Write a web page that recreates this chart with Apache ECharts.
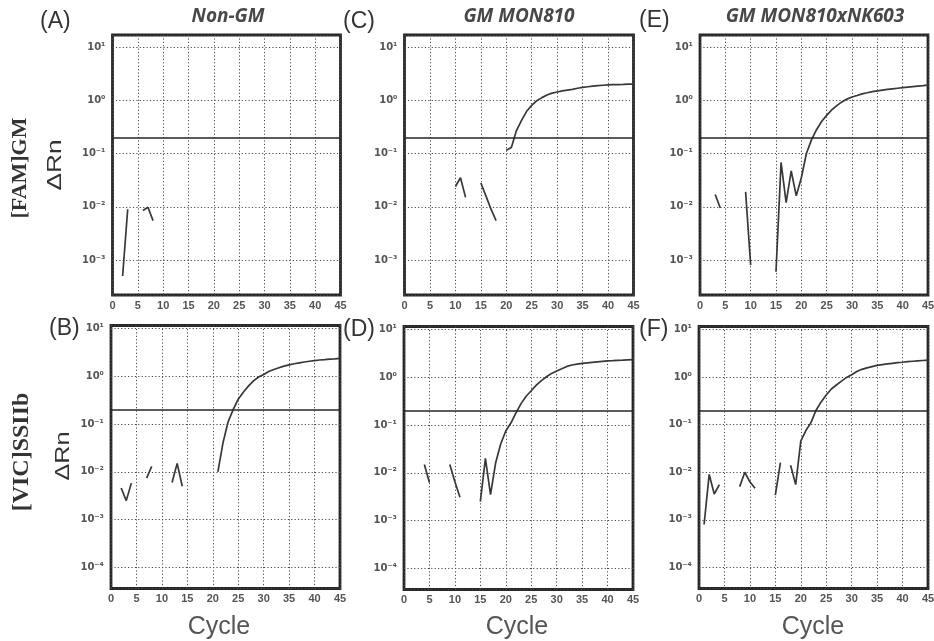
<!DOCTYPE html>
<html><head><meta charset="utf-8">
<script src="https://cdn.jsdelivr.net/npm/echarts@6/dist/echarts.min.js"></script>
<style>html,body{margin:0;padding:0;background:#fff}#c{width:934px;height:641px}</style>
</head><body><div id="c"></div>
<script>
// ---- data ----
const cycles = [1,2,3,4,5,6,7,8,9,10,11,12,13,14,15,16,17,18,19,20,21,22,23,24,25,26,27,28,29,30,31,32,33,34,35,36,37,38,39,40,41,42,43,44,45];
const xTickLabels = [0,5,10,15,20,25,30,35,40,45];
const yTickExpTop = [1,0,-1,-2,-3];
const yTickExpBottom = [1,0,-1,-2,-3,-4];
const columnTitles = ['Non-GM','GM MON810','GM MON810xNK603'];
const panelLetters = ['(A)','(C)','(E)','(B)','(D)','(F)'];
const rowNames = ['[FAM]GM','[VIC]SSIIb'];
const threshold = 0.2;
const n = null;
// (A) FAM, Non-GM
const famNonGM = [n,0.0005,0.009,n,n,0.0085,0.0098,0.0055,n,n,n,n,n,n,n,n,n,n,n,n,n,n,n,n,n,n,n,n,n,n,n,n,n,n,n,n,n,n,n,n,n,n,n,n,n];
// (C) FAM, GM MON810
const famMON810 = [n,n,n,n,n,n,n,n,n,0.024,0.035,0.015,n,n,0.028,0.016,0.009,0.0055,n,0.115,0.13,0.27,0.42,0.62,0.8,0.98,1.12,1.25,1.36,1.43,1.5,1.55,1.6,1.68,1.74,1.79,1.84,1.88,1.91,1.94,1.96,1.97,1.98,2.0,2.0];
// (E) FAM, GM MON810xNK603
const famStack = [n,n,0.017,0.0095,n,n,n,n,0.019,0.0008,n,n,n,n,0.0006,0.068,0.012,0.047,0.016,0.035,0.1,0.18,0.28,0.4,0.52,0.66,0.79,0.93,1.05,1.15,1.23,1.32,1.38,1.45,1.5,1.55,1.6,1.64,1.68,1.72,1.76,1.8,1.84,1.88,1.93];
// (B) VIC, Non-GM
const vicNonGM = [n,0.0046,0.0025,0.0058,n,n,0.0074,0.013,n,n,n,0.006,0.015,0.005,n,n,n,n,n,n,0.01,0.04,0.11,0.2,0.33,0.46,0.62,0.8,0.96,1.08,1.25,1.38,1.5,1.62,1.72,1.82,1.9,1.98,2.05,2.12,2.18,2.22,2.27,2.3,2.35];
// (D) VIC, GM MON810
const vicMON810 = [n,n,n,0.015,0.0063,n,n,n,0.015,0.0065,0.0031,n,n,n,0.0025,0.02,0.0035,0.016,0.04,0.075,0.11,0.18,0.28,0.4,0.52,0.68,0.85,1.02,1.2,1.35,1.5,1.68,1.8,1.88,1.95,2.0,2.05,2.1,2.15,2.2,2.22,2.25,2.27,2.3,2.32];
// (F) VIC, GM MON810xNK603
const vicStack = [0.0008,0.009,0.0035,0.0055,n,n,n,0.005,0.01,0.0063,0.0046,n,n,n,0.0033,0.016,n,0.014,0.0055,0.045,0.075,0.11,0.2,0.3,0.42,0.56,0.68,0.82,0.98,1.12,1.3,1.45,1.55,1.65,1.75,1.82,1.88,1.94,2.0,2.04,2.1,2.14,2.18,2.22,2.25];

const panels = [famNonGM, famMON810, famStack, vicNonGM, vicMON810, vicStack];

// ---- layout ----
const grids = [
  {left:112.5, top:35, width:228, height:260},
  {left:404.5, top:35, width:229, height:260},
  {left:700,   top:35, width:228, height:260},
  {left:111,   top:325.5, width:229, height:263},
  {left:404,   top:326.5, width:229, height:263},
  {left:699,   top:326.5, width:229, height:262}
];
const topRange = [Math.pow(10,-3.657), Math.pow(10,1.225)];
const botRange = [Math.pow(10,-4.44), Math.pow(10,1.06)];
const supMap = {'0':'\u2070','1':'\u00B9','2':'\u00B2','3':'\u00B3','4':'\u2074','-':'\u207B'};
function sup(e){ return String(e).split('').map(ch=>supMap[ch]).join(''); }

const gridLine = {show:true, lineStyle:{color:'#4a4a4a', width:1, type:[1.2,2.2]}};
const option = {
  animation:false,
  backgroundColor:'#fff',
  grid: grids.map(g => Object.assign({show:true, borderColor:'#262626', borderWidth:2.8, backgroundColor:'#fff', containLabel:false, outerBoundsMode:'none'}, g)),
  xAxis: grids.map((g,i) => ({
    type:'value', gridIndex:i, min:0, max:45, interval:5,
    axisLine:{show:false}, axisTick:{show:false},
    splitLine: gridLine,
    axisLabel:{margin:5, fontSize:11, fontWeight:'bold', color:'#555', fontFamily:'Liberation Sans',
      formatter: v => xTickLabels.indexOf(v) >= 0 ? String(v) : ''}
  })),
  yAxis: grids.map((g,i) => {
    const r = i < 3 ? topRange : botRange;
    const exps = i < 3 ? yTickExpTop : yTickExpBottom;
    return {
      type:'log', logBase:10, gridIndex:i, min:r[0], max:r[1],
      axisLine:{show:false}, axisTick:{show:false},
      splitLine: gridLine,
      axisLabel:{margin:7, fontSize:10, fontWeight:'bold', color:'#555', fontFamily:'DejaVu Sans',
        formatter: v => {
          const l = Math.log10(v); const e = Math.round(l);
          if (Math.abs(l - e) > 0.01 || exps.indexOf(e) < 0) return '';
          return '10' + sup(e);
        }}
    };
  }),
  series: panels.map((vals,i) => ({
    type:'line', xAxisIndex:i, yAxisIndex:i, showSymbol:false, connectNulls:false,
    lineStyle:{color:'#383838', width:1.7},
    data: cycles.map((c,k) => [c, vals[k] === null ? '-' : vals[k]]),
    markLine:{silent:true, symbol:'none', label:{show:false},
      lineStyle:{type:'solid', color:'#262626', width:1.7},
      data:[{yAxis:threshold}]}
  })),
  graphic: [
    ...columnTitles.map((t,i) => ({type:'text', x:[228,519,815][i], y:17,
      style:{text:t, font:'italic bold 19px "Open Sans"', fill:'#484848', textAlign:'center', textVerticalAlign:'middle', align:'center', verticalAlign:'middle'}})),
    ...panelLetters.map((t,i) => ({type:'text', x:[40,343,639,49,343,639][i], y:[22,22,21,329,330,330][i],
      style:{text:t, font:'23px "Liberation Sans"', fill:'#333', textAlign:'left', textVerticalAlign:'middle', align:'left', verticalAlign:'middle'}})),
    {type:'text', x:20, y:168, rotation:Math.PI/2,
      style:{text:rowNames[0], font:'bold 22px "Liberation Serif"', fill:'#333', textAlign:'center', textVerticalAlign:'middle', align:'center', verticalAlign:'middle'}},
    {type:'text', x:22, y:452, rotation:Math.PI/2,
      style:{text:rowNames[1], font:'bold 24px "Liberation Serif"', fill:'#333', textAlign:'center', textVerticalAlign:'middle', align:'center', verticalAlign:'middle'}},
    {type:'text', x:55, y:165, rotation:Math.PI/2, scaleX:1.25,
      style:{text:'\u0394Rn', font:'21px "Liberation Sans"', fill:'#333', textAlign:'center', textVerticalAlign:'middle', align:'center', verticalAlign:'middle'}},
    {type:'text', x:63, y:456, rotation:Math.PI/2, scaleX:1.2,
      style:{text:'\u0394Rn', font:'21px "Liberation Sans"', fill:'#333', textAlign:'center', textVerticalAlign:'middle', align:'center', verticalAlign:'middle'}},
    ...[219,517,813].map(x => ({type:'text', x:x, y:627,
      style:{text:'Cycle', font:'25px "Liberation Sans"', fill:'#555', textAlign:'center', textVerticalAlign:'middle', align:'center', verticalAlign:'middle'}}))
  ]
};
const chart = echarts.init(document.getElementById('c'), null, {renderer:'canvas'});
chart.setOption(option);
</script></body></html>
